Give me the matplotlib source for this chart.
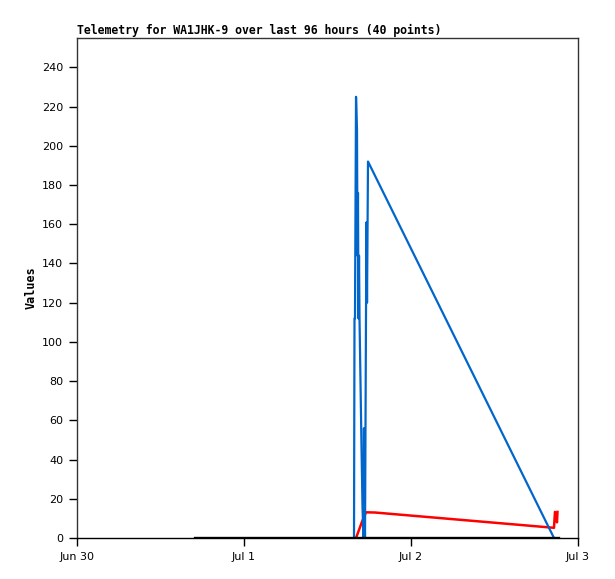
from datetime import datetime, timedelta
import matplotlib
matplotlib.use("Agg")
import matplotlib.pyplot as plt

# Telemetry values, time given as hours after Jun 30 00:00.
base = datetime(2023, 6, 30)

blue_hours = [39.81, 39.88, 39.95, 40.10, 40.24, 40.31, 40.38, 40.45, 40.53,
              40.60, 40.74, 40.88, 41.03, 41.17, 41.24, 41.31, 41.39, 41.53,
              41.60, 41.68, 41.82, 68.55]
blue_values = [0, 112, 112, 225, 208, 144, 176, 112, 144,
               112, 80, 48, 16, 0, 56, 16, 0, 112,
               161, 120, 192, 0]

red_hours = [40.10, 40.96, 41.53, 42.82, 68.55, 68.69, 68.98, 69.05]
red_values = [0, 8.3, 13.1, 13.0, 5.2, 13.3, 8.0, 13.3]

black_hours = [16.96, 69.12]
black_values = [0, 0]

y_ticks = list(range(0, 241, 20))
x_ticks = ["Jun 30", "Jul 1", "Jul 2", "Jul 3"]


def to_dates(hours):
    return [base + timedelta(hours=h) for h in hours]


fig = plt.figure(figsize=(6.15, 5.79), dpi=100)
ax = fig.add_axes([77 / 615, 41 / 579, 501 / 615, 500 / 579])

ax.plot(to_dates(red_hours), red_values, color="#ff0000", lw=1.8)
ax.plot(to_dates(blue_hours), blue_values, color="#0066cc", lw=1.6)
ax.plot(to_dates(black_hours), black_values, color="black", lw=2.4)

ax.set_xlim(base, base + timedelta(days=3))
ax.set_ylim(0, 255)
ax.set_yticks(y_ticks)
ax.set_xticks([base + timedelta(days=i) for i in range(4)])
ax.set_xticklabels(x_ticks)

for s in ax.spines.values():
    s.set_color("#333333")
    s.set_linewidth(1)
ax.spines["bottom"].set_color("black")

ax.tick_params(direction="out", length=6, width=1, labelsize=8,
               colors="black", pad=4)

ax.set_title("Telemetry for WA1JHK-9 over last 96 hours (40 points)",
             loc="left", fontfamily="DejaVu Sans Mono", fontweight="bold",
             fontsize=8.3, pad=3)
ax.set_ylabel("Values", fontfamily="DejaVu Sans Mono", fontweight="bold",
              fontsize=8.5, labelpad=3)

fig.savefig("out.png", dpi=100)
